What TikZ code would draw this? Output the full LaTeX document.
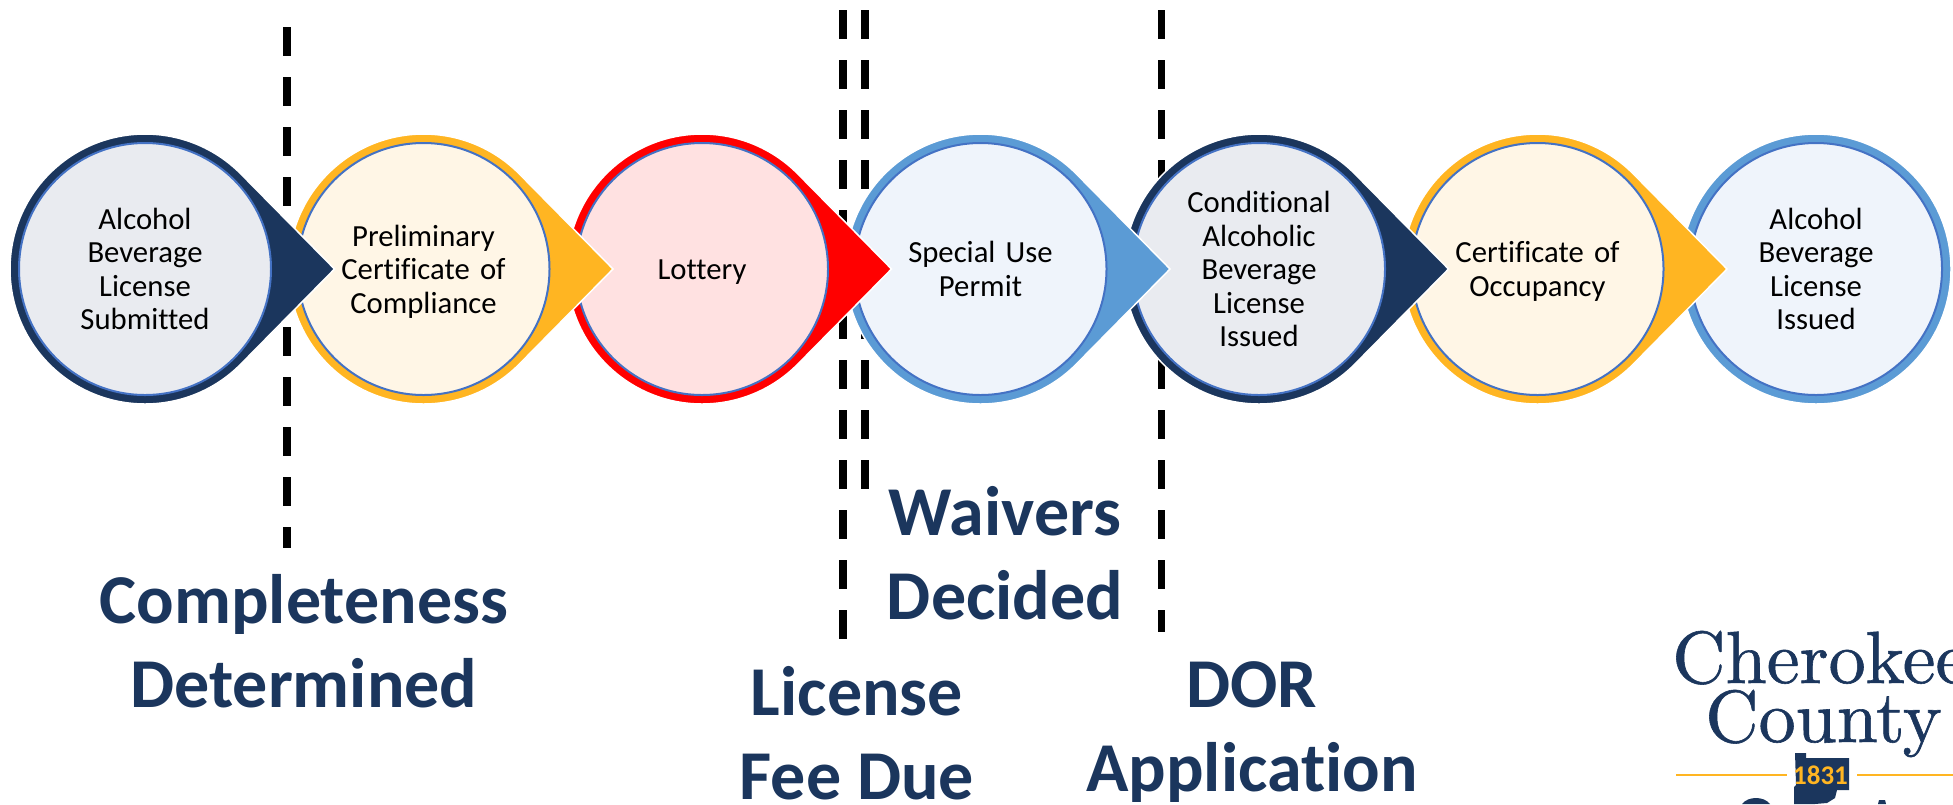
\documentclass[tikz,border=0pt]{standalone}
\usepackage{fontspec}
\newfontfamily\labelfont[Ligatures=NoCommon]{Carlito}
\newfontfamily\crestfont[FakeBold=0.8]{lmroman10-regular.otf}
\usetikzlibrary{positioning}
\definecolor{navyblue}{HTML}{1B365D}
\definecolor{navytint}{HTML}{E9EBF0}
\definecolor{goldtone}{HTML}{FFB522}
\definecolor{goldtint}{HTML}{FFF6E6}
\definecolor{redtone}{HTML}{FF0000}
\definecolor{redtint}{HTML}{FFE1E1}
\definecolor{skyblue}{HTML}{5B9BD5}
\definecolor{skytint}{HTML}{EFF4FB}
\definecolor{ringblue}{HTML}{4472C4}
\newcommand{\dropat}[2]{\filldraw[draw=white, line width=1.5pt, fill=#2, shift={(#1)}] (189.5,0) -- (45:135) arc[start angle=45, end angle=315, radius=135] -- cycle;}
\begin{document}
\begin{tikzpicture}[x=1pt, y=1pt, node distance=278.5pt,
    stagenode/.style={circle, draw=ringblue, line width=2pt, minimum size=252pt, inner sep=0pt, text width=170pt, align=center, text=black, font=\labelfont\fontsize{30.7}{33.5}\selectfont, execute at begin node=\rule{0pt}{31pt}, execute at end node=\rule[-10pt]{0pt}{10pt}},
    divider/.style={line width=7.5pt, dash pattern=on 28.7pt off 21.3pt},
    heading/.style={anchor=base, text=navyblue, align=center, font=\labelfont\fontsize{70}{84}\selectfont\bfseries},
    crestname/.style={anchor=base west, inner sep=0pt, text=navyblue, font=\crestfont\fontsize{74}{59}\selectfont},
    crestline/.style={draw=goldtone, line width=1.5pt}]
  \useasboundingbox (0,-804) rectangle (1953,0);

  \draw[divider] (287,-27) -- (287,-548);
  \draw[divider] (843,-10) -- (843,-639);
  \draw[divider] (865,-10) -- (865,-489);
  \draw[divider] (1161.5,-10) -- (1161.5,-632);

  \coordinate (s7) at (1816,-269);
  \coordinate[left of=s7] (s6);
  \coordinate[left of=s6] (s5);
  \coordinate[left of=s5] (s4);
  \coordinate[left of=s4] (s3);
  \coordinate[left of=s3] (s2);
  \coordinate[left of=s2] (s1);

  \draw[white, line width=1.5pt, fill=skyblue] (s7) circle[radius=135];
  \node[stagenode, fill=skytint] (issued) at (s7) {Alcohol\\Beverage\\License\\Issued};
  \dropat{s6}{goldtone}
  \node[stagenode, fill=goldtint] (occupancy) at (s6) {Certificate of\\Occupancy};
  \dropat{s5}{navyblue}
  \node[stagenode, fill=navytint] (conditional) at (s5) {Conditional\\Alcoholic\\Beverage\\License\\Issued};
  \dropat{s4}{skyblue}
  \node[stagenode, fill=skytint] (permit) at (s4) {Special Use\\Permit};
  \dropat{s3}{redtone}
  \node[stagenode, fill=redtint] (lottery) at (s3) {Lottery};
  \dropat{s2}{goldtone}
  \node[stagenode, fill=goldtint] (compliance) at (s2) {Preliminary\\Certificate of\\Compliance};
  \dropat{s1}{navyblue}
  \node[stagenode, fill=navytint] (submitted) at (s1) {Alcohol\\Beverage\\License\\Submitted};

  \node[heading] (complete) at (304,-707) {Completeness\\Determined};
  \node[heading] (waivers) at (1005,-619) {Waivers\\Decided};
  \node[heading] (feedue) at (857,-799) {License\\Fee Due};
  \node[heading] (dor) at (1252,-791) {DOR\\Application};

  % county crest, cut off by the page
  \node[crestname] (cherokee) at (1672,-683) {Cherokee};
  \node[crestname] (county) at (1705,-742) {County};
  \draw[crestline] (1676,-775) -- (1787,-775);
  \draw[crestline] (1857,-775) -- (1953,-775);
  \fill[navyblue] (1795,-753) -- (1806,-753) -- (1806,-758) -- (1849,-758) -- (1849,-790) -- (1837,-790) -- (1835,-798) -- (1827,-803) -- (1815,-804) -- (1794,-804) -- (1794,-787) -- (1796,-785) -- cycle;
  \node[anchor=base, inner sep=0pt, text=goldtone, font=\labelfont\fontsize{27}{27}\selectfont\bfseries] (year) at (1820.5,-784) {1831};
  \fill[navyblue] (1742,-804) .. controls (1748,-796) and (1764,-796) .. (1770,-804) -- cycle;
  \fill[navyblue] (1878,-804) -- (1879,-800) -- (1885,-800) -- (1886,-804) -- cycle;
\end{tikzpicture}
\end{document}
